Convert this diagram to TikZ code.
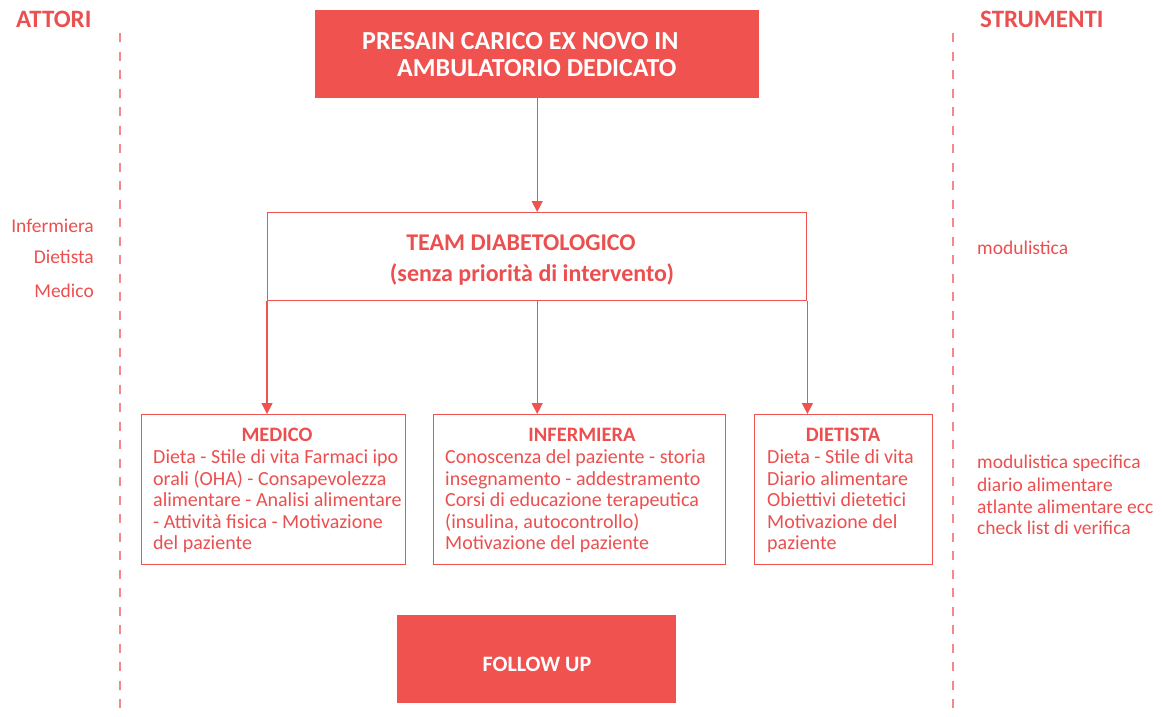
\documentclass[tikz,border=0pt]{standalone}
\usepackage{fontspec}
\setmainfont{Carlito}
\usetikzlibrary{arrows.meta}
\definecolor{cred}{HTML}{F0524F}
\definecolor{tred}{HTML}{EC4F4F}
\definecolor{dred}{HTML}{F28A8A}
\begin{document}
\begin{tikzpicture}[x=1pt,y=-1pt,
  fillbox/.style={fill=cred,draw=none,inner sep=0pt,anchor=north west},
  linebox/.style={draw=cred,line width=1.4pt,fill=white,inner sep=0pt,anchor=north west},
  head/.style={text=tred,font=\fontsize{20.5}{24}\selectfont\bfseries,inner sep=0pt,anchor=base},
  whitetxt/.style={text=white,font=\fontsize{26}{30}\selectfont\bfseries,inner sep=0pt},
  teamtxt/.style={text=tred,font=\fontsize{24}{28}\selectfont\bfseries,inner sep=0pt,anchor=base},
  body/.style={text=tred,font=\fontsize{20}{22}\selectfont,inner sep=0pt,anchor=base west},
  side/.style={text=tred,font=\fontsize{19.5}{21.5}\selectfont,inner sep=0pt},
  title/.style={text=tred,font=\fontsize{25}{29}\selectfont\bfseries,inner sep=0pt},
  divider/.style={draw=dred,line width=1.7pt,dash pattern=on 9pt off 9.5pt},
  conn/.style={draw=cred,line width=1.3pt,-{Triangle[width=11pt,length=11pt]}}
]
\useasboundingbox (0,0) rectangle (1162,716);
% headers
\node[title,anchor=base west] (attori) at (16,27) {ATTORI};
\node[title,anchor=base west] (strumenti) at (980,27) {STRUMENTI};
% dividers
\coordinate (l1) at (120,33); \coordinate (l2) at (120,716);
\coordinate (r1) at (953,33); \coordinate (r2) at (953,716);
\draw[divider] (l1) -- (l2);
\draw[divider] (r1) -- (r2);
% top box
\node[fillbox,minimum width=444pt,minimum height=88pt] (top) at (315,10) {};
\node[whitetxt,anchor=base west] (top1) at (362,49) {PRESAIN CARICO EX NOVO IN};
\node[whitetxt,anchor=base west] (top2) at (397,76) {AMBULATORIO DEDICATO};
% team box
\node[linebox,minimum width=539pt,minimum height=88pt] (team) at (267,212) {};
\node[teamtxt] (team1) at (521,250) {TEAM DIABETOLOGICO};
\node[teamtxt] (team2) at (532,281) {(senza priorità di intervento)};
% sub boxes
\node[linebox,minimum width=264pt,minimum height=150pt] (med) at (141,414) {};
\node[linebox,minimum width=292pt,minimum height=150pt] (inf) at (433,414) {};
\node[linebox,minimum width=178pt,minimum height=150pt] (die) at (754,414) {};
\node[head] (medh) at (277,441) {MEDICO};
\node[head] (infh) at (582,441) {INFERMIERA};
\node[head] (dieh) at (843,441) {DIETISTA};
% medico body
\node[body] (m1) at (153,463) {Dieta - Stile di vita Farmaci ipo};
\node[body] (m2) at (153,485) {orali (OHA) - Consapevolezza};
\node[body] (m3) at (153,506) {alimentare - Analisi alimentare};
\node[body] (m4) at (153,528) {- Attività fisica - Motivazione};
\node[body] (m5) at (153,549) {del paziente};
% infermiera body
\node[body] (i1) at (445,463) {Conoscenza del paziente - storia};
\node[body] (i2) at (445,485) {insegnamento - addestramento};
\node[body] (i3) at (445,506) {Corsi di educazione terapeutica};
\node[body] (i4) at (445,528) {(insulina, autocontrollo)};
\node[body] (i5) at (445,549) {Motivazione del paziente};
% dietista body
\node[body] (d1) at (767,463) {Dieta - Stile di vita};
\node[body] (d2) at (767,485) {Diario alimentare};
\node[body] (d3) at (767,506) {Obiettivi dietetici};
\node[body] (d4) at (767,528) {Motivazione del};
\node[body] (d5) at (767,549) {paziente};
% follow up
\node[fillbox,minimum width=279pt,minimum height=88pt] (fu) at (397,615) {};
\node[whitetxt,anchor=base,font=\fontsize{22}{26}\selectfont\bfseries] (fut) at (537,671) {FOLLOW UP};
% left labels
\node[side,anchor=base east] (a1) at (94,232) {Infermiera};
\node[side,anchor=base east] (a2) at (94,263) {Dietista};
\node[side,anchor=base east] (a3) at (94,297) {Medico};
% right labels
\node[side,anchor=base west] (s0) at (977,254) {modulistica};
\node[side,anchor=base west] (s1) at (977,468) {modulistica specifica};
\node[side,anchor=base west] (s2) at (977,491) {diario alimentare};
\node[side,anchor=base west] (s3) at (977,513) {atlante alimentare ecc};
\node[side,anchor=base west] (s4) at (977,534) {check list di verifica};
% connectors
\draw[conn] (top.south) -- (team.north);
\draw[conn] (team.south west) -- (team.south west |- med.north);
\draw[conn] (team.south) -- (team.south |- inf.north);
\draw[conn] (team.south east) -- (team.south east |- die.north);
\end{tikzpicture}
\end{document}
